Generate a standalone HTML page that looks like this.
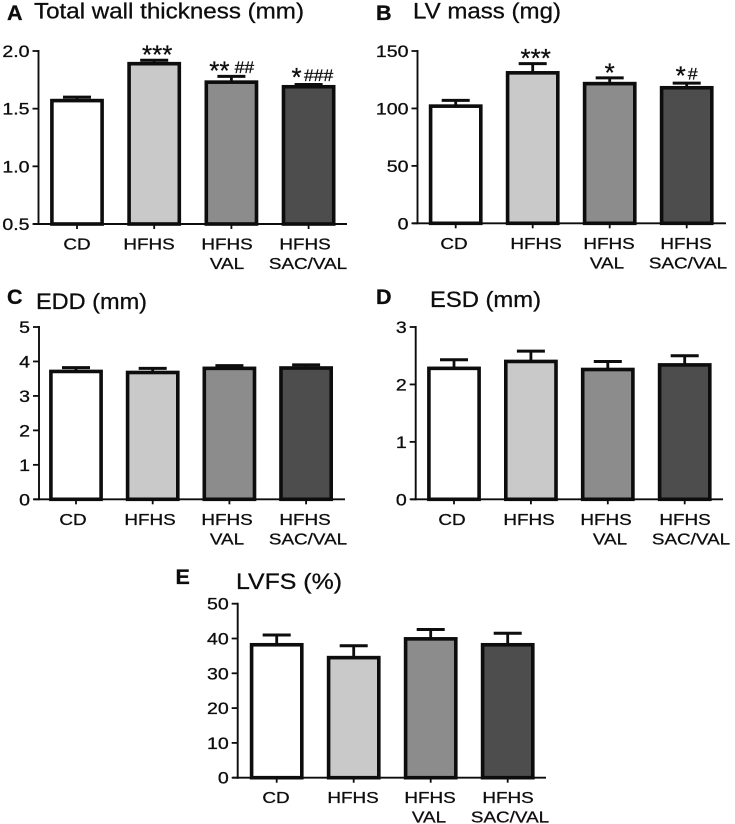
<!DOCTYPE html>
<html lang="en">
<head>
<meta charset="utf-8">
<title>Cardiac measurements bar charts</title>
<style>
html,body{margin:0;padding:0;background:#fff;}
body{width:735px;height:824px;overflow:hidden;}
svg{display:block;}
text{font-family:"Liberation Sans",Arial,sans-serif;fill:#111;stroke:#111;stroke-width:0.3px;}
</style>
</head>
<body>
<svg id="figure" xmlns="http://www.w3.org/2000/svg" width="735" height="824" viewBox="0 0 735 824">
<defs><filter id="soft" x="-2%" y="-2%" width="104%" height="104%"><feGaussianBlur stdDeviation="0.35"/></filter></defs>
<g id="root" filter="url(#soft)"></g>
</svg>
<script>
const categories = [['CD'], ['HFHS'], ['HFHS', 'VAL'], ['HFHS', 'SAC/VAL']];

const wallMeans = [1.57, 1.89, 1.73, 1.69];
const wallErrors = [0.03, 0.03, 0.05, 0.02];
const wallTicks = ['0.5', '1.0', '1.5', '2.0'];
const wallStars = ['', '***', '**', '*'];
const wallHashes = ['', '', '##', '###'];

const massMeans = [102, 131, 121.6, 118];
const massErrors = [5, 8, 5, 4];
const massTicks = ['0', '50', '100', '150'];
const massStars = ['', '***', '*', '*'];
const massHashes = ['', '', '', '#'];

const eddMeans = [3.71, 3.68, 3.80, 3.81];
const eddErrors = [0.11, 0.12, 0.08, 0.09];
const eddTicks = ['0', '1', '2', '3', '4', '5'];

const esdMeans = [2.28, 2.40, 2.26, 2.34];
const esdErrors = [0.15, 0.18, 0.14, 0.16];
const esdTicks = ['0', '1', '2', '3'];

const lvfsMeans = [38.2, 34.5, 39.9, 38.2];
const lvfsErrors = [2.8, 3.4, 2.7, 3.3];
const lvfsTicks = ['0', '10', '20', '30', '40', '50'];

const barFills = ['#ffffff', '#c9c9c9', '#8c8c8c', '#4e4e4e'];
const INK = '#0a0a0a';
const SVGNS = 'http://www.w3.org/2000/svg';
const root = document.getElementById('root');

function make(tag, parent, attrs) {
  const n = document.createElementNS(SVGNS, tag);
  for (const k in attrs) n.setAttribute(k, attrs[k]);
  parent.appendChild(n);
  return n;
}

function stretchedText(parent, str, x, y, size, sx, anchor, weight) {
  const t = make('text', parent, {
    transform: 'translate(' + x + ' ' + y + ') scale(' + sx + ' 1)',
    'font-size': size, 'text-anchor': anchor, 'font-weight': weight || 'normal'
  });
  t.textContent = str;
  return t;
}

function drawPanel(p) {
  const g = make('g', root, {});
  
  

  const tickMin = Number(p.ticks[0]);
  const tickMax = Number(p.ticks[p.ticks.length - 1]);
  const yScale = function (v) {
    return p.yBottom - (v - tickMin) / (tickMax - tickMin) * (p.yBottom - p.yTop);
  };
  const xScale = function (i) {
    return p.firstX + i * p.stepX;
  };

  const letter = stretchedText(g, p.letter, p.letterX, p.letterY, 21.5, 1, 'start', 'bold');
  
  

  const title = make('text', g, {
    x: p.titleX, y: p.titleY, 'font-size': 22.5,
    textLength: p.titleW, lengthAdjust: 'spacingAndGlyphs'
  });
  title.textContent = p.title;
  
  

  p.means.forEach(function (m, i) {
    const cx = xScale(i);
    const top = yScale(m);
    const capY = yScale(m + p.errors[i]);

    const stem = make('line', g, { x1: cx, x2: cx, y1: top, y2: capY, stroke: INK, 'stroke-width': 2.8 });
    
    

    const cap = make('line', g, { x1: cx - 14, x2: cx + 14, y1: capY, y2: capY, stroke: INK, 'stroke-width': 3 });
    
    

    const bar = make('rect', g, {
      x: cx - 25.1, y: top, width: 50.2, height: p.yBottom - top,
      fill: barFills[i], stroke: INK, 'stroke-width': 3.6
    });
    
    

    const tick = make('line', g, { x1: cx, x2: cx, y1: p.yBottom, y2: p.yBottom + 5, stroke: INK, 'stroke-width': 1.8 });
    
    

    categories[i].forEach(function (line, j) {
      const lab = stretchedText(g, line, p.labelX[i][j], p.labelY + j * 19.3, 16, 1.18, 'middle');
      
      
    });

    if (p.stars && p.stars[i]) {
      const star = stretchedText(g, p.stars[i], cx + p.starDx[i], capY + p.starDy[i] - 3.5, 26, 1, 'middle');
      
      
    }
    if (p.hashes && p.hashes[i]) {
      const hash = stretchedText(g, p.hashes[i], cx + p.hashDx[i], capY - 3.5, 17, 1.03, 'middle');
      
      
    }
  });

  const yAxis = make('line', g, { x1: p.axisX, x2: p.axisX, y1: p.yTop - 1, y2: p.yBottom + 1, stroke: INK, 'stroke-width': 1.9 });
  
  

  const xAxis = make('line', g, { x1: p.axisX - 5, x2: p.axisEnd, y1: p.yBottom, y2: p.yBottom, stroke: INK, 'stroke-width': 1.9 });
  
  

  p.ticks.forEach(function (label) {
    const y = yScale(Number(label));
    const tick = make('line', g, { x1: p.axisX - 6, x2: p.axisX, y1: y, y2: y, stroke: INK, 'stroke-width': 1.8 });
    
    

    const txt = stretchedText(g, label, p.axisX - 9, y + 6, 17, 1.15, 'end');
    
    
  });
}

drawPanel({
  letter: 'A', letterX: 7, letterY: 20, title: 'Total wall thickness (mm)', titleX: 34, titleY: 18.5, titleW: 270,
  means: wallMeans, errors: wallErrors, ticks: wallTicks, stars: wallStars, hashes: wallHashes,
  starDx: [0, 3, -12, -12], starDy: [0, 7, 6.5, 5], hashDx: [0, 0, 13, 10],
  axisX: 38.5, axisEnd: 347, yTop: 51, yBottom: 224, firstX: 77, stepX: 77.2,
  labelY: 249.5, labelX: [[77], [149], [227, 227], [305, 308]]
});
drawPanel({
  letter: 'B', letterX: 376, letterY: 20, title: 'LV mass (mg)', titleX: 413, titleY: 18.5, titleW: 148,
  means: massMeans, errors: massErrors, ticks: massTicks, stars: massStars, hashes: massHashes,
  starDx: [0, 3, 0, -6], starDy: [0, 7, 7, 5], hashDx: [0, 0, 0, 6],
  axisX: 417.5, axisEnd: 726, yTop: 51, yBottom: 223.3, firstX: 455.7, stepX: 77,
  labelY: 249, labelX: [[454], [536], [609, 607], [686, 688]]
});
drawPanel({
  letter: 'C', letterX: 7, letterY: 304, title: 'EDD (mm)', titleX: 36, titleY: 309, titleW: 111,
  means: eddMeans, errors: eddErrors, ticks: eddTicks,
  axisX: 39, axisEnd: 345, yTop: 327, yBottom: 499.3, firstX: 76, stepX: 76.7,
  labelY: 525, labelX: [[73], [150], [227, 227], [305, 308]]
});
drawPanel({
  letter: 'D', letterX: 376, letterY: 304, title: 'ESD (mm)', titleX: 430, titleY: 307, titleW: 111,
  means: esdMeans, errors: esdErrors, ticks: esdTicks,
  axisX: 415.7, axisEnd: 723, yTop: 327, yBottom: 499.3, firstX: 454, stepX: 76.9,
  labelY: 525, labelX: [[452], [529], [606, 610], [685, 691]]
});
drawPanel({
  letter: 'E', letterX: 175.5, letterY: 584, title: 'LVFS (%)', titleX: 236, titleY: 589, titleW: 106,
  means: lvfsMeans, errors: lvfsErrors, ticks: lvfsTicks,
  axisX: 237.7, axisEnd: 546, yTop: 603.7, yBottom: 777.7, firstX: 276.7, stepX: 77,
  labelY: 803, labelX: [[276], [353], [430, 429], [508, 510]]
});
</script>
</body>
</html>
